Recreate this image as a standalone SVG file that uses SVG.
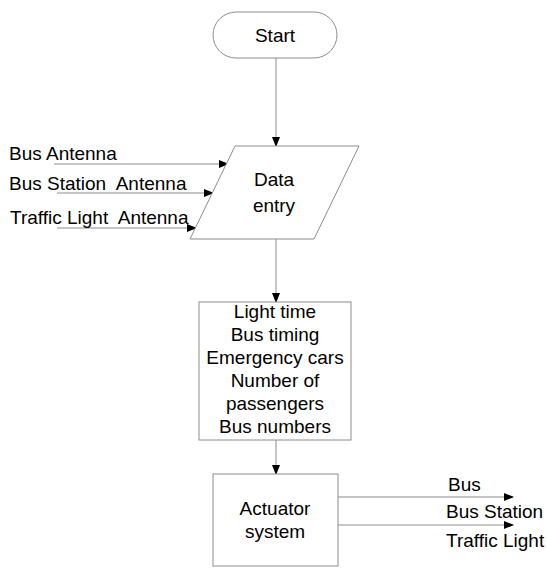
<svg xmlns="http://www.w3.org/2000/svg" width="546" height="568" viewBox="0 0 546 568">
  <defs>
    <marker id="arrow" markerWidth="10" markerHeight="8" refX="9" refY="4" orient="auto" markerUnits="userSpaceOnUse">
      <path d="M0,0 L10,4 L0,8 Z" fill="#000"/>
    </marker>
    <style>
      .shape { fill: #fff; stroke: #8c8c8c; stroke-width: 1; }
      .conn { fill: none; stroke: #8c8c8c; stroke-width: 1; marker-end: url(#arrow); }
      .txt { font-family: "Liberation Sans", Arial, sans-serif; font-size: 19px; fill: #000; }
      .mid { text-anchor: middle; }
    </style>
  </defs>
  <rect width="546" height="568" fill="#fff"/>

  <g id="connectors">
    <line class="conn" x1="276" y1="58" x2="276" y2="146"/>
    <line class="conn" x1="54" y1="164" x2="228" y2="164"/>
    <line class="conn" x1="57" y1="193" x2="213" y2="193"/>
    <line class="conn" x1="57" y1="228" x2="196" y2="228"/>
    <line class="conn" x1="276" y1="239" x2="276" y2="302"/>
    <line class="conn" x1="276" y1="440" x2="276" y2="474"/>
    <line class="conn" x1="338" y1="497" x2="513" y2="497"/>
    <line class="conn" x1="338" y1="525" x2="513" y2="525"/>
  </g>

  <g id="start">
    <rect class="shape" x="213" y="12" width="124" height="46" rx="23" ry="23"/>
    <text class="txt mid" x="275" y="42">Start</text>
  </g>

  <g id="data-entry">
    <polygon class="shape" points="235,146 359,146 314,239 190,239"/>
    <text class="txt mid" x="274" y="186">Data</text>
    <text class="txt mid" x="274" y="212">entry</text>
  </g>

  <g id="inputs">
    <text class="txt" x="9" y="160">Bus Antenna</text>
    <text class="txt" x="9" y="190" xml:space="preserve">Bus Station  Antenna</text>
    <text class="txt" x="10" y="224" xml:space="preserve">Traffic Light  Antenna</text>
  </g>

  <g id="data-list">
    <rect class="shape" x="199" y="302" width="152" height="138"/>
    <text class="txt mid" x="275" y="318">Light time</text>
    <text class="txt mid" x="275" y="341">Bus timing</text>
    <text class="txt mid" x="275" y="364">Emergency cars</text>
    <text class="txt mid" x="275" y="387">Number of</text>
    <text class="txt mid" x="275" y="410">passengers</text>
    <text class="txt mid" x="275" y="433">Bus numbers</text>
  </g>

  <g id="actuator">
    <rect class="shape" x="213" y="474" width="125" height="92"/>
    <text class="txt mid" x="275" y="515">Actuator</text>
    <text class="txt mid" x="275" y="538">system</text>
  </g>

  <g id="outputs">
    <text class="txt" x="448" y="491">Bus</text>
    <text class="txt" x="446" y="518">Bus Station</text>
    <text class="txt" x="446" y="547">Traffic Light</text>
  </g>
</svg>
